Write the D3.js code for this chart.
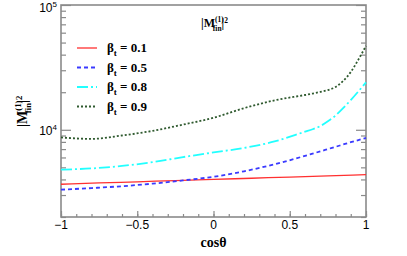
<!DOCTYPE html>
<html>
<head>
<meta charset="utf-8">
<script src="https://cdn.jsdelivr.net/npm/d3@7"></script>
<style>
  body { margin: 0; background: #fff; }
  svg { display: block; }
</style>
</head>
<body>
<div id="chart"></div>
<script>

// cos(theta) grid and the four curves
let cosRed = [-1, -0.75, -0.5, -0.25, 0, 0.25, 0.5, 0.75, 1];
let beta01 = [3660, 3750, 3830, 3920, 4000, 4090, 4180, 4270, 4370];

let cosGrid = [-1, -0.8, -0.6, -0.4, -0.2, 0, 0.2, 0.4, 0.6, 0.65, 0.7, 0.75, 0.8, 0.85, 0.9, 0.95, 1];
let beta05 = [3310, 3410, 3530, 3700, 3930, 4200, 4650, 5290, 6180, 6440, 6710, 7000, 7300, 7620, 7950, 8270, 8600];
let beta08 = [4790, 4900, 5130, 5500, 6040, 6580, 7150, 8060, 9650, 10100, 10700, 11700, 13000, 14900, 17300, 20300, 24000];
let beta09 = [8680, 8450, 9000, 9800, 11000, 12480, 14900, 17200, 19000, 19500, 20100, 20800, 22000, 24600, 29000, 36500, 47000];

let seriesNames = ['0.1', '0.5', '0.8', '0.9'];
let xMajor = [-1, -0.5, 0, 0.5, 1];
let xLabels = ['\u22121', '\u22120.5', '0', '0.5', '1'];

var width = 407, height = 256;
var margin = { top: 5, right: 41, bottom: 39, left: 61 };

var svg = d3.select('#chart').append('svg')
  .attr('width', width)
  .attr('height', height);

var x = d3.scaleLinear().domain([-1, 1]).range([margin.left, width - margin.right]);
var y = d3.scaleLog().domain([2000, 100000]).range([height - margin.bottom, margin.top]);

var axisColor = '#8a8a8a';

// minor + major tick values
var xMinor = d3.range(-10, 11).map(function (d) { return d / 10; });
var yMinor = [];
[1000, 10000].forEach(function (dec) {
  for (let k = 2; k <= 9; k++) { if (k * dec >= 2000) yMinor.push(k * dec); }
});
var yMajor = [10000, 100000];

function styleAxis(g) {
  g.select('.domain').remove();
  g.selectAll('line').attr('stroke', axisColor).attr('stroke-width', 1.2);
}

// x minor ticks
svg.append('g')
  .attr('transform', 'translate(0,' + y.range()[0] + ')')
  .call(d3.axisBottom(x).tickValues(xMinor).tickSize(-3).tickFormat(''))
  .call(styleAxis);
// x major ticks
svg.append('g')
  .attr('transform', 'translate(0,' + y.range()[0] + ')')
  .call(d3.axisBottom(x).tickValues(xMajor).tickSize(-6).tickFormat(''))
  .call(styleAxis);

// y ticks left and right
[[d3.axisLeft, margin.left], [d3.axisRight, width - margin.right]].forEach(function (a) {
  svg.append('g')
    .attr('transform', 'translate(' + a[1] + ',0)')
    .call(a[0](y).tickValues(yMinor).tickSize(-5).tickFormat(''))
    .call(styleAxis);
  svg.append('g')
    .attr('transform', 'translate(' + a[1] + ',0)')
    .call(a[0](y).tickValues(yMajor).tickSize(-10).tickFormat(''))
    .call(styleAxis);
});

// frame
svg.append('rect')
  .attr('x', x(-1)).attr('y', y(100000))
  .attr('width', x(1) - x(-1)).attr('height', y(2000) - y(100000))
  .attr('fill', 'none')
  .attr('stroke', axisColor)
  .attr('stroke-width', 1.6);

// x tick labels
svg.append('g').selectAll('text')
  .data(xMajor)
  .enter().append('text')
  .attr('x', function (d) { return x(d); })
  .attr('y', y.range()[0] + 12)
  .attr('text-anchor', 'middle')
  .attr('font-family', 'Liberation Sans, Arial, sans-serif')
  .attr('font-size', 12)
  .text(function (d, i) { return xLabels[i]; });

// y tick labels 10^4, 10^5
var yl = svg.append('g').selectAll('text')
  .data(yMajor)
  .enter().append('text')
  .attr('x', margin.left - 4)
  .attr('y', function (d) { return Math.max(y(d) + 5, 12); })
  .attr('text-anchor', 'end')
  .attr('font-family', 'Liberation Sans, Arial, sans-serif')
  .attr('font-size', 12);
yl.append('tspan').text('10');
yl.append('tspan').attr('dy', -5).attr('font-size', 8)
  .text(function (d) { return Math.round(Math.log10(d)); });

// helper for |M_fin^(1)|^2
function mLabel(sel, size) {
  sel.attr('font-family', 'Liberation Serif, Times New Roman, serif')
    .attr('font-weight', 'bold')
    .attr('font-size', size);
  sel.append('tspan').text('|M');
  var s = size * 0.62;
  sel.append('tspan').attr('font-size', s).attr('dy', -size * 0.45).text('(1)');
  sel.append('tspan').attr('font-size', s).attr('dx', -s * 1.45).attr('dy', size * 0.75).text('fin');
  sel.append('tspan').attr('dy', -size * 0.3).text('|');
  sel.append('tspan').attr('font-size', s).attr('dy', -size * 0.35).text('2');
}

// chart title
svg.append('text')
  .attr('x', 201).attr('y', 27)
  .call(mLabel, 12);

// y axis title (rotated)
svg.append('text')
  .attr('transform', 'translate(27,127) rotate(-90)')
  .call(mLabel, 14);

// x axis title
svg.append('text')
  .attr('x', (x(-1) + x(1)) / 2)
  .attr('y', 247)
  .attr('text-anchor', 'middle')
  .attr('font-family', 'Liberation Serif, Times New Roman, serif')
  .attr('font-weight', 'bold')
  .attr('font-size', 14)
  .text('cos\u03b8');

// curves
var series = [
  { name: seriesNames[0], xs: cosRed, ys: beta01, color: '#ff3030', dash: null, w: 1.3 },
  { name: seriesNames[1], xs: cosGrid, ys: beta05, color: '#3a3aff', dash: '4,3', w: 1.8 },
  { name: seriesNames[2], xs: cosGrid, ys: beta08, color: '#22ffff', dash: '11,3,2,3', w: 1.8 },
  { name: seriesNames[3], xs: cosGrid, ys: beta09, color: '#2f5a2f', dash: '2,2', w: 1.8 }
];

var line = d3.line()
  .x(function (p) { return x(p[0]); })
  .y(function (p) { return y(p[1]); })
  .curve(d3.curveMonotoneX);

svg.append('g').selectAll('path')
  .data(series)
  .enter().append('path')
  .attr('d', function (s) { return line(d3.zip(s.xs, s.ys)); })
  .attr('fill', 'none')
  .attr('stroke', function (s) { return s.color; })
  .attr('stroke-width', function (s) { return s.w; })
  .attr('stroke-dasharray', function (s) { return s.dash; });

// legend
var legend = svg.append('g').selectAll('g')
  .data(series)
  .enter().append('g')
  .attr('transform', function (s, i) { return 'translate(77,' + (48 + i * 19.5) + ')'; });

legend.append('line')
  .attr('x1', 0).attr('x2', 20)
  .attr('stroke', function (s) { return s.color; })
  .attr('stroke-width', function (s) { return s.w; })
  .attr('stroke-dasharray', function (s) { return s.dash; });

var lt = legend.append('text')
  .attr('x', 30).attr('y', 4)
  .attr('font-family', 'Liberation Serif, Times New Roman, serif')
  .attr('font-weight', 'bold')
  .attr('font-size', 13);
lt.append('tspan').text('\u03b2');
lt.append('tspan').attr('font-size', 9).attr('dy', 4).text('t');
lt.append('tspan').attr('dy', -4).text(function (s) { return ' = ' + s.name; });

</script>
</body>
</html>
